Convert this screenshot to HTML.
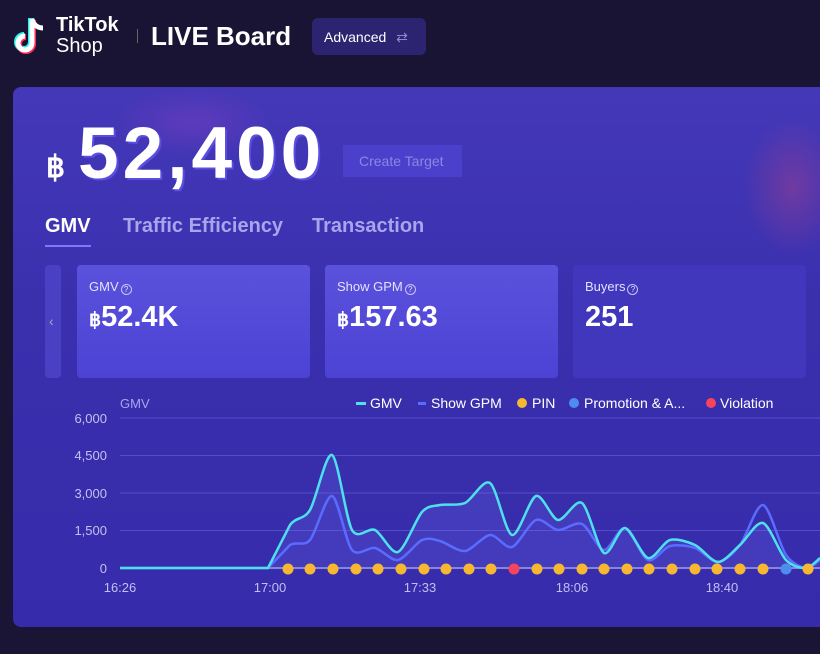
<!DOCTYPE html>
<html><head><meta charset="utf-8"><style>
*{margin:0;padding:0;box-sizing:border-box}
body{width:820px;height:654px;overflow:hidden;background:#1b1535;font-family:"Liberation Sans",sans-serif;position:relative;color:#fff}
.hdr{position:absolute;left:0;top:0;width:820px;height:80px;background:#1a1434}
.panel{position:absolute;left:13px;top:87px;width:820px;height:540px;border-radius:8px;background:linear-gradient(180deg,#4438b8 0%,#3a30ae 40%,#362cab 100%);overflow:hidden}
.blob1{position:absolute;left:100px;top:0;width:160px;height:70px;background:radial-gradient(ellipse,#7a3fc0 0%,rgba(138,63,192,0) 70%);opacity:.5}
.blob2{position:absolute;left:730px;top:30px;width:100px;height:140px;background:radial-gradient(ellipse,#a04090 0%,rgba(192,64,122,0) 70%);opacity:.5}
.card{position:absolute;top:265px;height:113px;border-radius:4px}
.lbl{position:absolute;left:12px;top:14px;font-size:13px;color:#e4e2ff}
.q{display:inline-block;width:11px;height:11px;border:1px solid #c9c6f5;border-radius:50%;font-size:8px;line-height:9px;text-align:center;vertical-align:-1px;margin-left:2px}
.val{position:absolute;left:12px;top:36px;font-size:29px;font-weight:bold}
.val small{font-size:19px}
</style></head><body>
<div class="hdr"></div>
<div style="position:absolute;left:14px;top:15px;width:36px;height:44px">
<svg width="36" height="44" viewBox="0 0 36 44"><path d="M18 4v24a7 7 0 1 1-7-7" fill="none" stroke="#25f4ee" stroke-width="6" transform="translate(-1,-1)"/><path d="M18 4v24a7 7 0 1 1-7-7" fill="none" stroke="#fe2c55" stroke-width="6" transform="translate(1,1)"/><path d="M18 4v24a7 7 0 1 1-7-7M18 4c1 5 5 9 11 9" fill="none" stroke="#fff" stroke-width="5"/></svg></div>
<div style="position:absolute;left:56px;top:15px;font-size:20px;font-weight:bold;line-height:20px">TikTok</div>
<div style="position:absolute;left:56px;top:36px;font-size:20px;line-height:20px">Shop</div>
<div style="position:absolute;left:137px;top:29px;width:1px;height:14px;background:#666"></div>
<div style="position:absolute;left:151px;top:21px;font-size:26px;font-weight:bold">LIVE Board</div>
<div style="position:absolute;left:312px;top:18px;width:114px;height:37px;border-radius:6px;background:#2c2470;font-size:14px;padding:11px 0 0 12px">Advanced <span style="color:#8d88c8;margin-left:6px">⇄</span></div>
<div class="panel"><div class="blob1"></div><div class="blob2"></div></div>
<div style="position:absolute;left:46px;top:150px;font-size:30px;font-weight:bold">฿</div>
<div style="position:absolute;left:78px;top:112px;font-size:73px;font-weight:bold;letter-spacing:4px;text-shadow:2px 2px 0 #5a4de0">52,400</div>
<div style="position:absolute;left:343px;top:145px;width:119px;height:32px;background:#4a40cc;color:#8b86e0;font-size:14px;padding:8px 0 0 16px">Create Target</div>
<div style="position:absolute;left:45px;top:215px;font-size:20px;font-weight:bold">GMV</div>
<div style="position:absolute;left:45px;top:245px;width:46px;height:2px;background:#7d78ff"></div>
<div style="position:absolute;left:123px;top:215px;font-size:20px;font-weight:bold;color:#a9a5ec">Traffic Efficiency</div>
<div style="position:absolute;left:312px;top:215px;font-size:20px;font-weight:bold;color:#a9a5ec">Transaction</div>
<div class="card" style="left:45px;width:16px;background:#4a40c4;color:#aaa;font-size:14px;padding-top:48px;padding-left:4px">‹</div>
<div class="card" style="left:77px;width:233px;background:linear-gradient(#5a52dc,#4c42d4)"><div class="lbl">GMV<span class="q">?</span></div><div class="val"><small>฿</small>52.4K</div></div>
<div class="card" style="left:325px;width:233px;background:linear-gradient(#5a52dc,#4c42d4)"><div class="lbl">Show GPM<span class="q">?</span></div><div class="val"><small>฿</small>157.63</div></div>
<div class="card" style="left:573px;width:233px;background:#4137bc"><div class="lbl">Buyers<span class="q">?</span></div><div class="val">251</div></div>
<svg id="ch" style="position:absolute;left:0;top:0" width="820" height="654" font-family="Liberation Sans, sans-serif">
<g stroke="#554ccb" stroke-width="1">
<line x1="120" y1="418" x2="820" y2="418"/><line x1="120" y1="455.5" x2="820" y2="455.5"/><line x1="120" y1="493" x2="820" y2="493"/><line x1="120" y1="530.5" x2="820" y2="530.5"/></g>
<line x1="120" y1="568" x2="820" y2="568" stroke="#8a85d8" stroke-width="2"/>
<g fill="#c3c0f0" font-size="13" text-anchor="end">
<text x="107" y="423">6,000</text><text x="107" y="460">4,500</text><text x="107" y="498">3,000</text><text x="107" y="535">1,500</text><text x="107" y="573">0</text></g>
<g fill="#c3c0f0" font-size="13" text-anchor="middle">
<text x="120" y="592">16:26</text><text x="270" y="592">17:00</text><text x="420" y="592">17:33</text><text x="572" y="592">18:06</text><text x="722" y="592">18:40</text></g>
<text x="120" y="408" fill="#a9a5ec" font-size="13">GMV</text>
<g font-size="14" fill="#fff">
<rect x="356" y="402" width="10" height="3" fill="#4fe0ee"/><text x="370" y="408">GMV</text>
<rect x="418" y="402" width="8" height="3" fill="#5a6cff"/><text x="431" y="408">Show GPM</text>
<circle cx="522" cy="403" r="5" fill="#f7b731"/><text x="532" y="408">PIN</text>
<circle cx="574" cy="403" r="5" fill="#4f8cf0"/><text x="584" y="408">Promotion &amp; A...</text>
<circle cx="711" cy="403" r="5" fill="#f5455c"/><text x="720" y="408">Violation</text></g>
<path id="area" fill="rgba(120,130,255,0.18)"/>
<path id="gpm" fill="none" stroke="#5a6cff" stroke-width="2.5"/>
<path id="gmv" fill="none" stroke="#4fe0ee" stroke-width="2.5"/>
<g id="dots"></g>
</svg>
<script>
function cr(p){let d="M"+p[0][0]+","+p[0][1];for(let i=0;i<p.length-1;i++){const a=p[i-1]||p[i],b=p[i],c=p[i+1],e=p[i+2]||c;const k=(i==0||i==1)?0:1/7;d+=" C"+(b[0]+(c[0]-a[0])*k)+","+(b[1]+(c[1]-a[1])*k)+" "+(c[0]-(e[0]-b[0])*k)+","+(c[1]-(e[1]-b[1])*k)+" "+c[0]+","+c[1];}return d;}
const g=[[120,568],[268,568],[290,525],[310,510],[332,455],[352,530],[375,530],[398,552],[422,512],[440,505],[465,503],[490,483],[512,535],[536,496],[558,520],[582,503],[604,553],[625,528],[648,558],[670,540],[695,545],[718,562],[740,545],[763,523],[786,560],[806,568],[820,558]];
const s=[[120,568],[268,568],[290,545],[310,540],[332,496],[352,550],[375,548],[398,560],[422,540],[440,541],[465,551],[490,535],[512,547],[536,520],[558,530],[582,524],[604,550],[625,528],[648,560],[670,546],[695,548],[718,562],[740,545],[763,505],[786,555],[806,568],[820,560]];
const gd=cr(g);document.getElementById('gmv').setAttribute('d',gd);
document.getElementById('gpm').setAttribute('d',cr(s));
document.getElementById('area').setAttribute('d',gd+" L820,568 L120,568 Z");
const xs=[288,310,333,356,378,401,424,446,469,491,514,537,559,582,604,627,649,672,695,717,740,763,786,808];
let h="";xs.forEach(x=>{const c=x==514?"#f5455c":x==786?"#4f8cf0":"#f7b731";h+='<circle cx="'+x+'" cy="569" r="5.5" fill="'+c+'"/>';});
document.getElementById('dots').innerHTML=h;
</script>
</body></html>
